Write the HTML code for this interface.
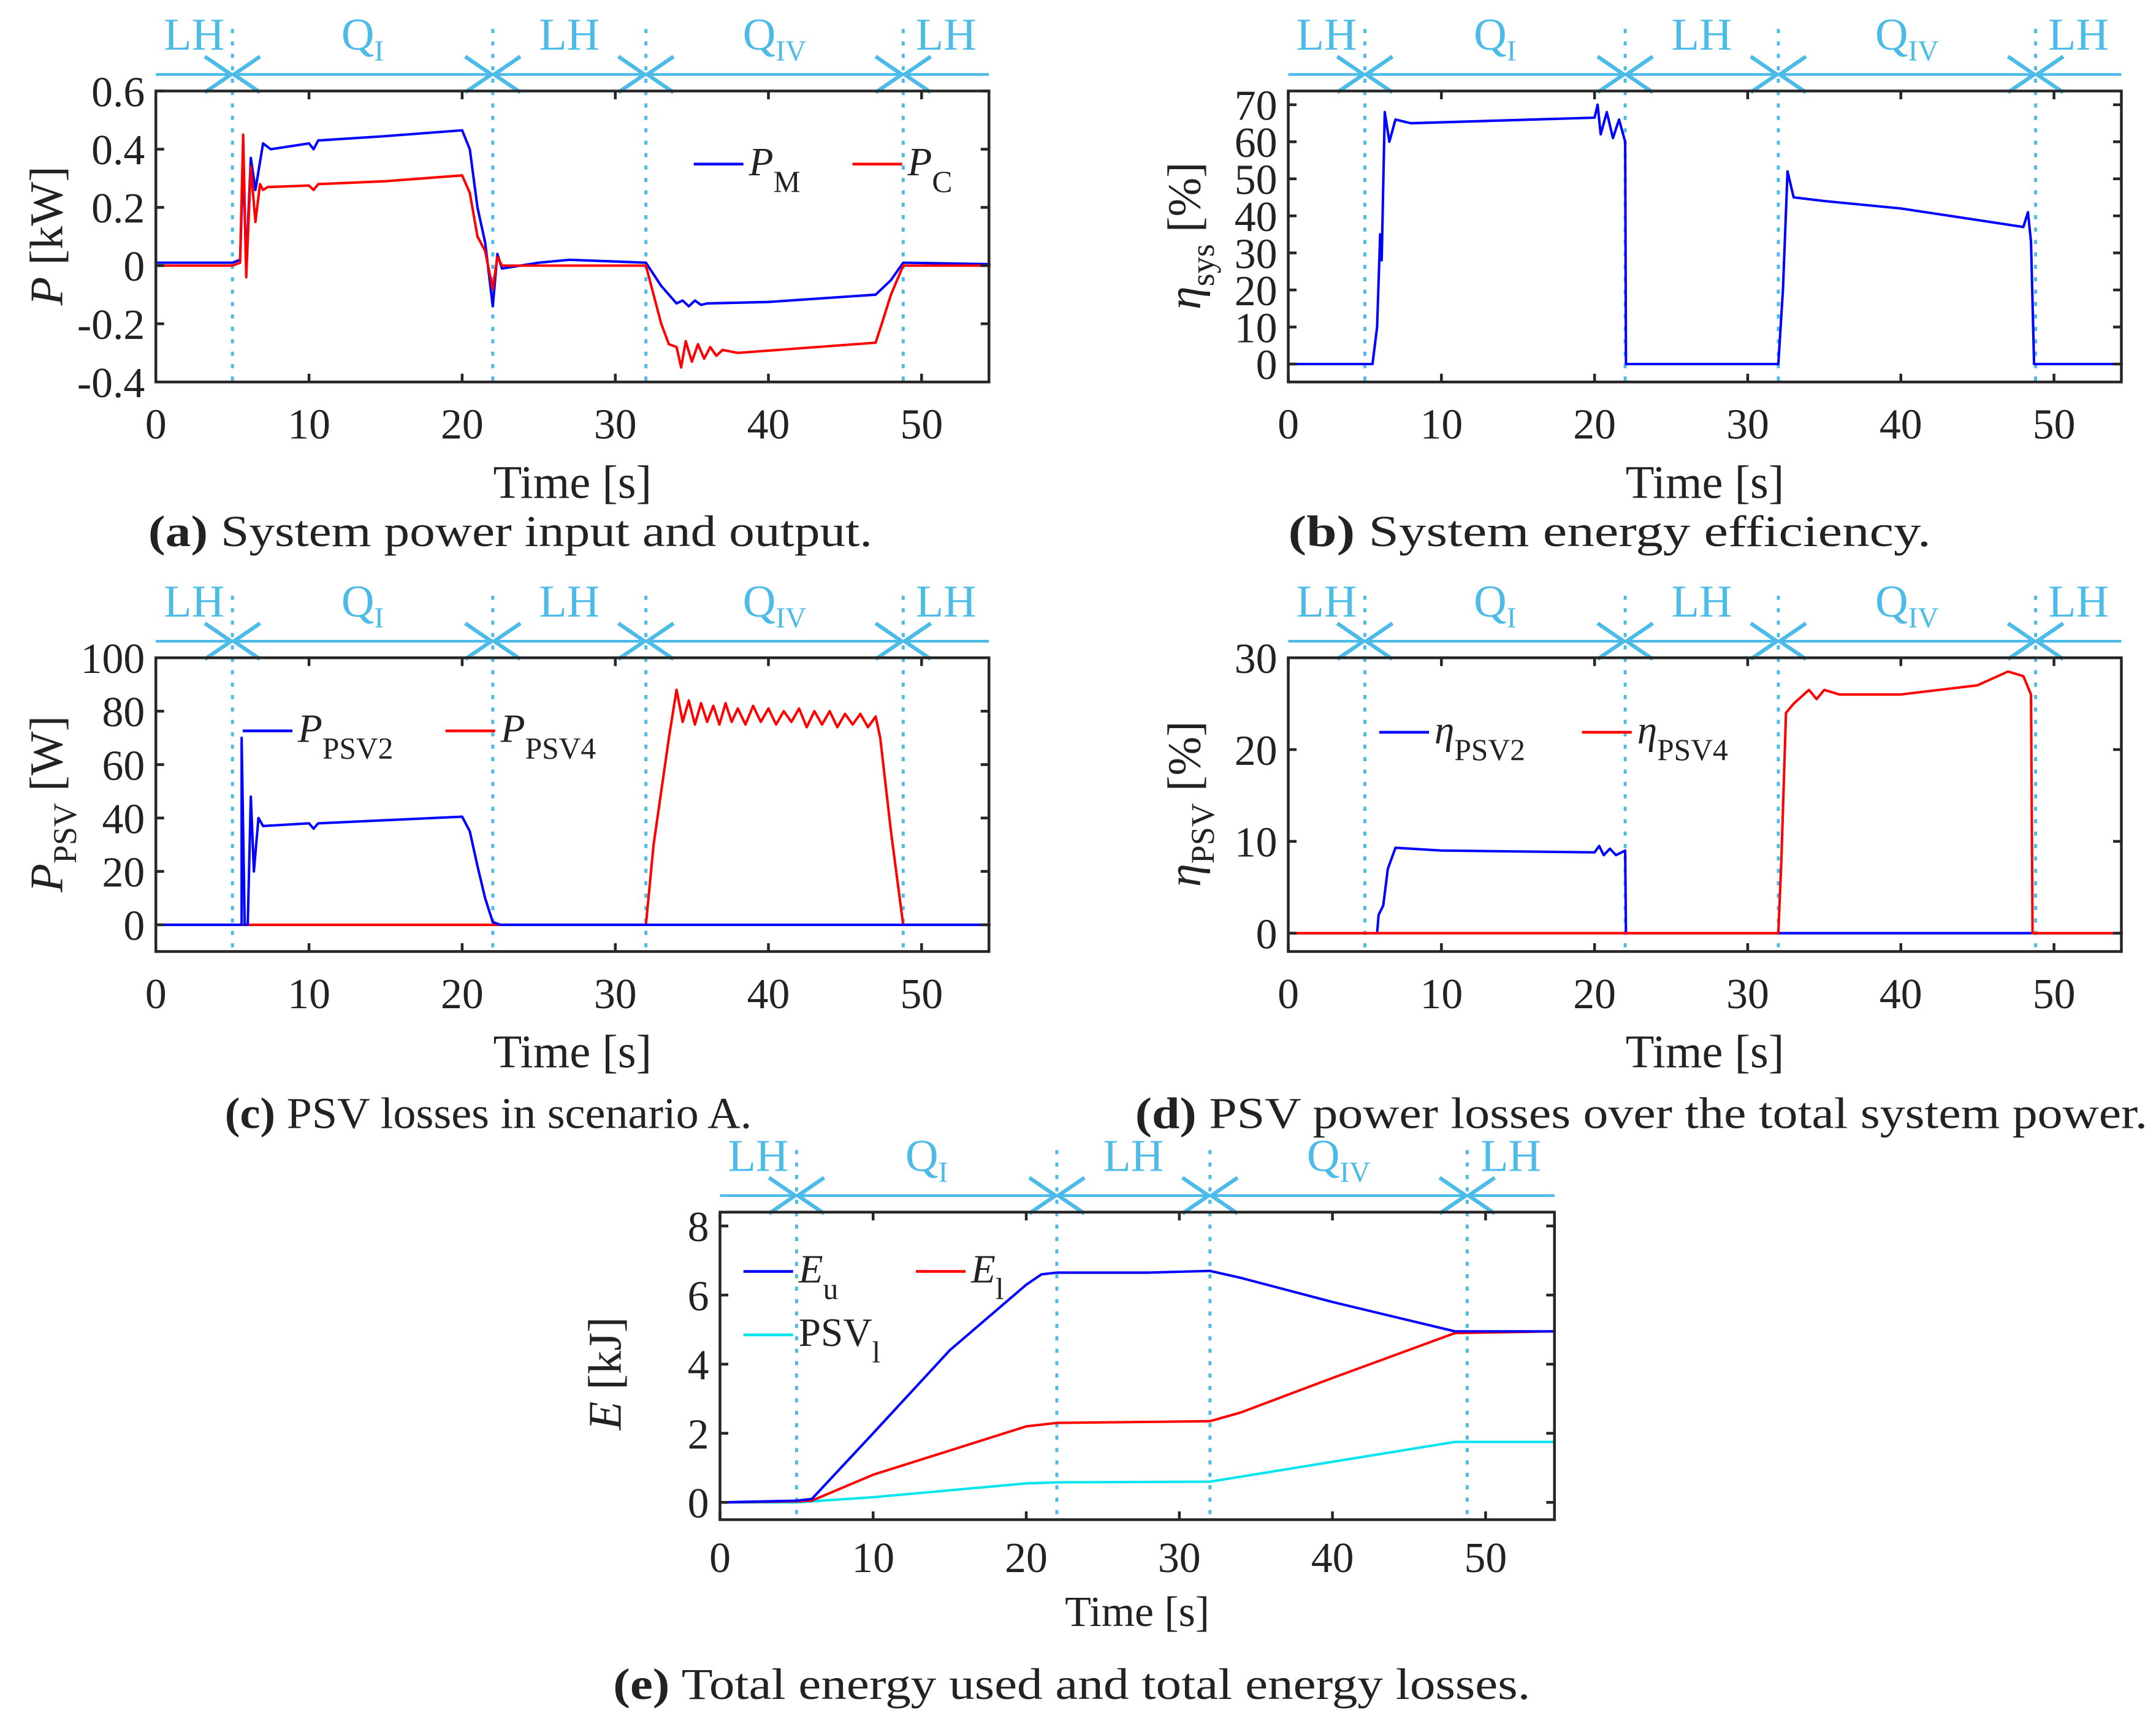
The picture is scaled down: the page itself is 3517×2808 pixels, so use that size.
<!DOCTYPE html>
<html><head><meta charset="utf-8">
<style>
html,body{margin:0;padding:0;background:#fff;}
svg{display:block;}
text{font-family:"Liberation Serif",serif;fill:#222;}
</style></head>
<body>
<svg id="fig" width="3517" height="2808" viewBox="0 0 1563.1 1248" xmlns="http://www.w3.org/2000/svg"></svg>
<script>
// ---- Data (time [s], value) ----
const phaseTimes = [5, 22, 32, 48.8];
const phaseLabels = ["LH","Q","LH","Q","LH"];
const phaseSubs = ["","I","","IV",""];
const xTicks = [0,10,20,30,40,50];

const aPMt = [0,5,5.5,5.7,5.9,6.2,6.5,7,7.5,10,10.3,10.6,15,20,20.5,21,21.5,22,22.3,22.6,25,27,32,33,34,34.4,34.8,35.2,35.6,36,40,47,48,48.8,54.5];
const aPMv = [0.01,0.01,0.02,0.36,0.0,0.37,0.26,0.42,0.40,0.42,0.40,0.43,0.445,0.465,0.40,0.2,0.08,-0.14,0.04,-0.01,0.01,0.02,0.01,-0.07,-0.13,-0.12,-0.14,-0.12,-0.135,-0.13,-0.125,-0.10,-0.05,0.01,0.005];
const aPCt = [0,5,5.5,5.7,5.9,6.2,6.5,6.8,7,7.3,10,10.3,10.6,15,20,20.5,21,21.5,22,22.3,22.6,32,33,33.5,34,34.3,34.6,35,35.4,35.8,36.2,36.6,37,38,47,47.4,48,48.8,54.5];
const aPCv = [0,0,0.01,0.45,-0.04,0.34,0.15,0.28,0.26,0.27,0.275,0.26,0.28,0.29,0.31,0.25,0.1,0.05,-0.08,0.03,0,0,-0.2,-0.27,-0.28,-0.35,-0.26,-0.33,-0.27,-0.32,-0.28,-0.31,-0.29,-0.3,-0.265,-0.2,-0.1,0,0];

const bEt = [0,5.5,5.8,6,6.1,6.3,6.6,7,8,20,20.2,20.4,20.8,21.2,21.6,22,22.05,32,32.3,32.6,33,35,40,48,48.3,48.5,48.7,54.5];
const bEv = [0,0,10,35,28,68,60,66,65,66.5,70,62,68,61,66,60,0,0,20,52,45,44,42,37,41,33,0,0];

const cP2t = [0,5.6,5.6,5.8,6,6.2,6.4,6.7,7,10,10.3,10.6,20,20.5,21,21.5,22,22.5,54.5];
const cP2v = [0,0,70,0,0,48,20,40,37,38,36,38,40.5,35,22,10,1,0,0];
const cP4t = [0,32,32.5,33,33.5,34,34.4,34.8,35.2,35.6,36,36.4,36.8,37.2,37.6,38,38.5,39,39.5,40,40.5,41,41.5,42,42.5,43,43.5,44,44.5,45,45.5,46,46.5,47,47.3,48,48.8,54.5];
const cP4v = [0,0,30,50,70,88,76,84,75,83,76,82,75,83,76,81,75,82,76,81,75,80,76,81,74,80,75,80,74,79,75,79,74,78,70,35,0,0];

const dE2t = [0,5.8,5.9,6.2,6.5,7,10,20,20.3,20.6,21,21.4,22,22.05,54.5];
const dE2v = [0,0,2,3,7,9.3,9,8.8,9.5,8.5,9.2,8.5,9,0,0];
const dE4t = [0,32,32.2,32.5,33,34,34.5,35,36,40,45,47,48,48.5,48.6,54.5];
const dE4v = [0,0,8,24,25,26.5,25.5,26.5,26,26,27,28.5,28,26,0,0];

const eUt = [0,5,6,10,15,20,21,22,28,32,34,40,48,54.5];
const eUv = [0,0.05,0.1,2,4.4,6.3,6.6,6.65,6.65,6.7,6.5,5.8,4.95,4.95];
const eLt = [0,5,6,10,20,22,32,34,40,48,54.5];
const eLv = [0,0.03,0.05,0.8,2.2,2.3,2.35,2.6,3.6,4.9,4.95];
const ePt = [0,5,10,20,22,32,48,54.5];
const ePv = [0,0,0.15,0.55,0.58,0.6,1.75,1.75];

const NS="http://www.w3.org/2000/svg";
const fig=document.getElementById('fig');
function mk(tag,attrs,parent){const e=document.createElementNS(NS,tag);for(const k in attrs)e.setAttribute(k,attrs[k]);(parent||fig).appendChild(e);return e;}

function panel(id,x0,x1,y0,y1,yMin,yMax,yTicks,yLabels,tMax){
  const g=mk('g',{});
  
  
  const sx=t=>x0+(t/tMax)*(x1-x0);
  const sy=v=>y1-(v-yMin)/(yMax-yMin)*(y1-y0);
  return {g,sx,sy,x0,x1,y0,y1,yTicks,yLabels};
}
function frame(p,xtOff,xtSize,tlOff){
  const {g,sx,sy,x0,x1,y0,y1}=p;
  const r=mk('rect',{x:x0,y:y0,width:x1-x0,height:y1-y0,fill:'none',stroke:'#262626','stroke-width':2},g);
  
  
  xTicks.forEach(t=>{
    mk('line',{x1:sx(t),x2:sx(t),y1:y1,y2:y1-6,stroke:'#262626','stroke-width':2},g);
    mk('line',{x1:sx(t),x2:sx(t),y1:y0,y2:y0+6,stroke:'#262626','stroke-width':2},g);
    const tx=mk('text',{x:sx(t),y:y1+(tlOff||41),'font-size':31,'text-anchor':'middle'},g);
    tx.textContent=t;
    
    
  });
  p.yTicks.forEach((v,i)=>{
    mk('line',{x1:x0,x2:x0+6,y1:sy(v),y2:sy(v),stroke:'#262626','stroke-width':2},g);
    mk('line',{x1:x1,x2:x1-6,y1:sy(v),y2:sy(v),stroke:'#262626','stroke-width':2},g);
    const tx=mk('text',{x:x0-8,y:sy(v)+11,'font-size':31,'text-anchor':'end'},g);
    tx.textContent=p.yLabels[i];
    
    
  });
  const xt=mk('text',{x:(x0+x1)/2,y:y1+(xtOff||84),'font-size':xtSize||34,'text-anchor':'middle'},g);
  xt.textContent='Time [s]';
  
  
}
function phases(p){
  const {g,sx,x0,x1,y0,y1}=p;
  const c='#4dbbe8';
  const ay=y0-12;
  const line=mk('line',{x1:x0,x2:x1,y1:ay,y2:ay,stroke:c,'stroke-width':2},g);
  
  
  phaseTimes.forEach(t=>{
    const x=sx(t);
    const l=mk('line',{x1:x,x2:x,y1:y0-45,y2:y1,stroke:c,'stroke-width':2.2,'stroke-dasharray':'3,6'},g);
    
    
    mk('path',{d:`M${x-20},${ay-13} L${x-1},${ay} L${x-20},${ay+13} M${x+20},${ay-13} L${x+1},${ay} L${x+20},${ay+13}`,fill:'none',stroke:c,'stroke-width':2.8},g);
  });
  const bounds=[0,...phaseTimes,(x1-x0)/(sx(1)-sx(0))];
  phaseLabels.forEach((lab,i)=>{
    const xm=(sx(bounds[i])+sx(bounds[i+1]))/2;
    const tx=mk('text',{x:xm,y:y0-30,'font-size':33,'text-anchor':'middle',style:'fill:'+c},g);
    tx.textContent=lab;
    if(phaseSubs[i]){const s=mk('tspan',{'font-size':21,dy:8},tx);s.textContent=phaseSubs[i];}
    
    
  });
}
function series(p,ts,vs,color,name,w){
  const pts=ts.map((t,i)=>p.sx(t).toFixed(2)+','+p.sy(vs[i]).toFixed(2)).join(' ');
  const pl=mk('polyline',{points:pts,fill:'none',stroke:color,'stroke-width':w||1.8,'stroke-linejoin':'round'},p.g);
  
  
}
function legend(p,x,y,color,main,sub,name,italic){
  const l=mk('line',{x1:x,x2:x+36,y1:y,y2:y,stroke:color,'stroke-width':2},p.g);
  
  
  const tx=mk('text',{x:x+40,y:y+8,'font-size':29},p.g);
  const m=mk('tspan',{'font-style':italic?'italic':'normal'},tx);m.textContent=main;
  const s=mk('tspan',{'font-size':22,dy:12},tx);s.textContent=sub;
  
  
}
function ylab(p,x,yc,html,name){
  const tx=mk('text',{transform:`translate(${x},${yc}) rotate(-90)`,'font-size':34,'text-anchor':'middle'},p.g);
  tx.innerHTML=html;
  
  
}
function caption(cx,y,w,bold,rest,name){
  const tx=mk('text',{x:cx-w/2,y:y,'font-size':32,textLength:w,lengthAdjust:'spacingAndGlyphs'});
  const b=mk('tspan',{'font-weight':'bold'},tx);b.textContent=bold;
  const r=mk('tspan',{},tx);r.textContent=' '+rest;
  
  
}

// (a)
let pa=panel('panel-a-power',113,717,66,277,-0.4,0.6,[-0.4,-0.2,0,0.2,0.4,0.6],['-0.4','-0.2','0','0.2','0.4','0.6'],54.4);
phases(pa);
series(pa,aPMt,aPMv,'#0000ff','pm-line');
series(pa,aPCt,aPCv,'#ff0000','pc-line');
frame(pa);
legend(pa,503,119,'#0000ff','P','M','legend-pm',true);
legend(pa,618,119,'#ff0000','P','C','legend-pc',true);
ylab(pa,45,171,'<tspan font-style="italic">P</tspan> [kW]','y-axis-title-a');
caption(370,396,525,'(a)','System power input and output.','caption-a');

// (b)
let pb=panel('panel-b-efficiency',934,1538,66,277,-4.84,73.7,[0,10,20,30,40,50,60,70],['0','10','20','30','40','50','60','70'],54.4);
phases(pb);
series(pb,bEt,bEv,'#0000ff','eta-sys-line');
frame(pb);
ylab(pb,870,171,'<tspan font-style="italic">η</tspan><tspan font-size="24" dy="10">sys</tspan><tspan dy="-10">  [%]</tspan>','y-axis-title-b');
caption(1167,396,466,'(b)','System energy efficiency.','caption-b');

// (c)
let pc=panel('panel-c-psv-losses',113,717,477,690,-10,100,[0,20,40,60,80,100],['0','20','40','60','80','100'],54.4);
phases(pc);
series(pc,cP4t,cP4v,'#ff0000','ppsv4-line');
series(pc,cP2t,cP2v,'#0000ff','ppsv2-line');
frame(pc);
legend(pc,176,530,'#0000ff','P','PSV2','legend-ppsv2',true);
legend(pc,323,530,'#ff0000','P','PSV4','legend-ppsv4',true);
ylab(pc,45,583,'<tspan font-style="italic">P</tspan><tspan font-size="24" dy="10">PSV</tspan><tspan dy="-10">  [W]</tspan>','y-axis-title-c');
caption(354,818,382,'(c)','PSV losses in scenario A.','caption-c');

// (d)
let pd=panel('panel-d-psv-ratio',934,1538,477,690,-2,30,[0,10,20,30],['0','10','20','30'],54.4);
phases(pd);
series(pd,dE2t,dE2v,'#0000ff','eta-psv2-line');
series(pd,dE4t,dE4v,'#ff0000','eta-psv4-line');
frame(pd);
legend(pd,1000,531,'#0000ff','η','PSV2','legend-eta-psv2',true);
legend(pd,1147,531,'#ff0000','η','PSV4','legend-eta-psv4',true);
ylab(pd,870,583,'<tspan font-style="italic">η</tspan><tspan font-size="24" dy="10">PSV</tspan><tspan dy="-10">  [%]</tspan>','y-axis-title-d');
caption(1190,818,734,'(d)','PSV power losses over the total system power.','caption-d');

// (e)
let pe=panel('panel-e-energy',522,1127,879,1102,-0.5,8.4,[0,2,4,6,8],['0','2','4','6','8'],54.5);
phases(pe);
series(pe,ePt,ePv,'#00e5ee','psv1-line');
series(pe,eLt,eLv,'#ff0000','el-line');
series(pe,eUt,eUv,'#0000ff','eu-line');
frame(pe,77,31,38);
legend(pe,539,922,'#0000ff','E','u','legend-eu',true);
legend(pe,664,922,'#ff0000','E','l','legend-el',true);
legend(pe,539,968,'#00e5ee','PSV','l','legend-psv1',false);
ylab(pe,450,996,'<tspan font-style="italic">E</tspan> [kJ]','y-axis-title-e');
caption(777,1232,665,'(e)','Total energy used and total energy losses.','caption-e');
</script>
</body></html>
